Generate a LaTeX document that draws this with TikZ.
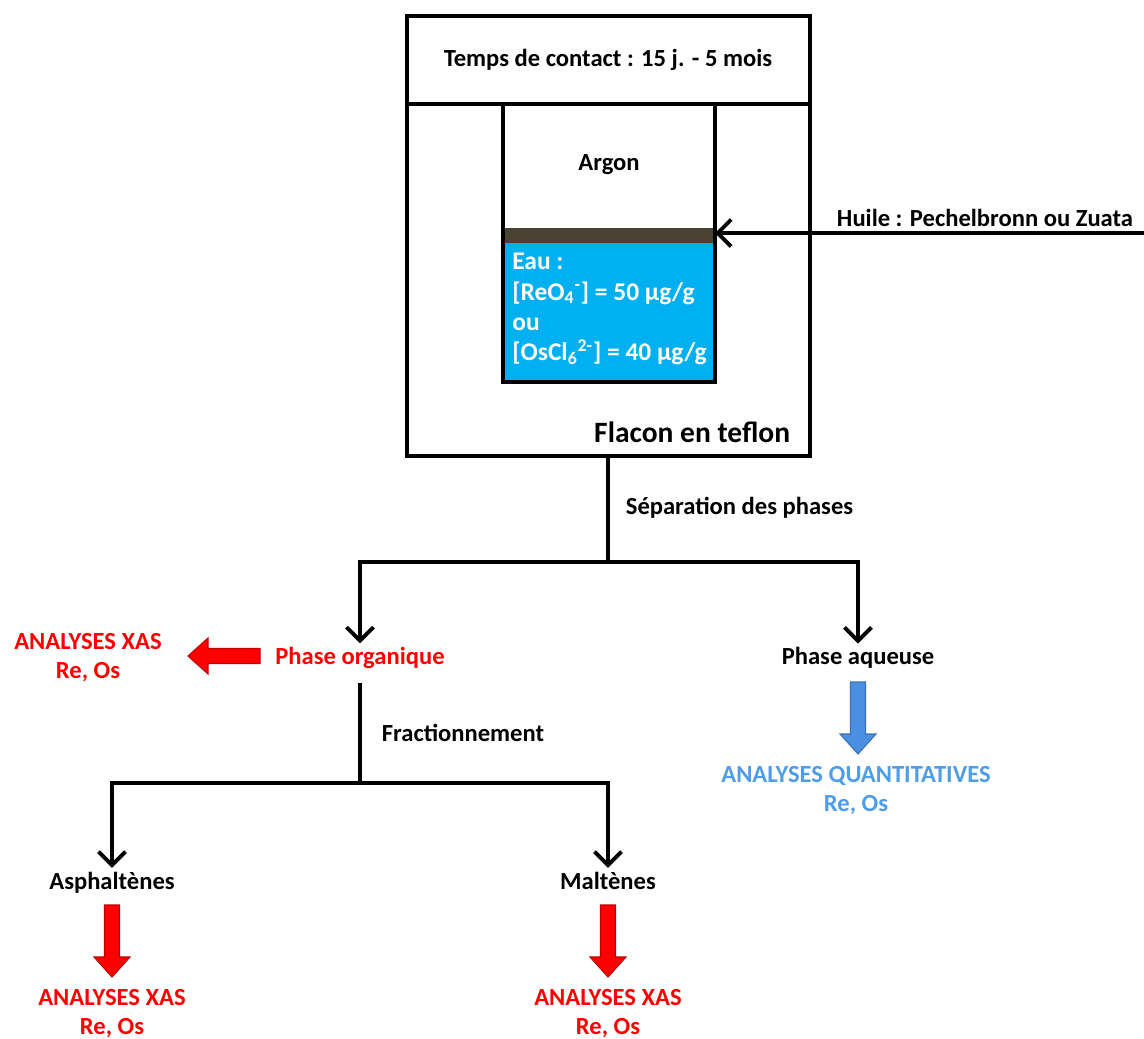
\documentclass[tikz,border=0pt]{standalone}
\usepackage{fontspec}
\setmainfont{Carlito}
\usetikzlibrary{positioning, arrows.meta, calc}
\definecolor{rouge}{HTML}{FF0000}
\definecolor{rougefonce}{HTML}{C00000}
\definecolor{eaubleu}{HTML}{00B0F0}
\definecolor{bleuana}{HTML}{4F9DE8}
\definecolor{bleufleche}{HTML}{4A8FE0}
\definecolor{bleufonce}{HTML}{3A70B8}
\definecolor{huilebrun}{HTML}{4A4230}

\begin{document}
\begin{tikzpicture}[x=0.02cm, y=-0.02cm,
    every node/.style={font=\fontsize{14}{16.5}\selectfont\bfseries, inner sep=2pt},
    trait/.style={line width=2.2pt},
    boite/.style={line width=2.3pt},
    fleche/.style={trait, -{Straight Barb[scale=1.3]}},
    rougetxt/.style={text=rouge, align=center},
    bleutxt/.style={text=bleuana, align=center},
    pics/grossefleche/.style={code={
      \filldraw[line width=0.6pt, #1] (0,-7.5) -- (52,-7.5) -- (52,-18) -- (72,0)
        -- (52,18) -- (52,7.5) -- (0,7.5) -- cycle;}}
  ]
  \useasboundingbox (0,0) rectangle (1144,1039);
  % Flacon en teflon
  \draw[boite] (407,16) rectangle (810,456);
  \draw[boite] (407,104) -- (810,104);
  \node (contact) at (608,60) {Temps de contact : 15 j. - 5 mois};
  % Tube : eau + huile + argon
  \fill[eaubleu] (503,243) rectangle (715,382);
  \fill[huilebrun] (503,228) rectangle (715,243);
  \draw[boite] (503,104) -- (503,382) -- (715,382) -- (715,104);
  \node (argon) at (609,165) {Argon};
  \node[text=white, align=left, inner sep=0pt, anchor=north west,
    font=\fontsize{14.5}{17.2}\selectfont\bfseries] (eau) at (512,253)
    {Eau :\\{[}ReO\textsubscript{4}\textsuperscript{-}] = 50 µg/g\\ou\\{[}OsCl\textsubscript{6}\textsuperscript{2-}] = 40 µg/g};
  \node[anchor=base east, font=\fontsize{16.8}{20}\selectfont\bfseries] (flacon) at (794,442) {Flacon en teflon};
  % Huile
  \coordinate (huile-depart) at (1144,233);
  \coordinate (tube-droite) at (715,233);
  \draw[fleche] (huile-depart) -- (tube-droite);
  \node[anchor=base] (huile) at (985,226) {Huile : Pechelbronn ou Zuata};
  % Separation des phases
  \coordinate (flacon-bas) at (608,456);
  \coordinate (sep) at (608,562);
  \node (org) [rougetxt] at (360,658) {Phase organique};
  \node (aq) at (858,658) {Phase aqueuse};
  \draw[trait] (flacon-bas) -- (sep);
  \draw[fleche] (sep) -| (org.north);
  \draw[fleche] (sep) -| (aq.north);
  \node[anchor=west] (sep-label) at (622,508) {Séparation des phases};
  % Analyses phase organique / aqueuse
  \node (xas-org) [rougetxt] at (88,658) {ANALYSES XAS\\Re, Os};
  \pic[rotate=180] at (260,656) {grossefleche={fill=rouge, draw=rougefonce}};
  \pic[rotate=-90] at (858,682) {grossefleche={fill=bleufleche, draw=bleufonce}};
  \node (quant) [bleutxt] at (856,791) {ANALYSES QUANTITATIVES\\Re, Os};
  % Fractionnement
  \coordinate (frac) at (360,783);
  \node[anchor=base] (asph) at (112,889) {Asphaltènes};
  \node[anchor=base] (malt) at (608,889) {Maltènes};
  \draw[trait] ($(org.south)+(0,10)$) -- (frac);
  \draw[fleche] (frac) -| (asph.north);
  \draw[fleche] (frac) -| (malt.north);
  \node[anchor=west] (frac-label) at (378,733) {Fractionnement};
  % Analyses XAS des fractions
  \pic[rotate=-90] at (112,905) {grossefleche={fill=rouge, draw=rougefonce}};
  \pic[rotate=-90] at (608,905) {grossefleche={fill=rouge, draw=rougefonce}};
  \node (xas-asph) [rougetxt] at (112,1014) {ANALYSES XAS\\Re, Os};
  \node (xas-malt) [rougetxt] at (608,1014) {ANALYSES XAS\\Re, Os};
\end{tikzpicture}
\end{document}
